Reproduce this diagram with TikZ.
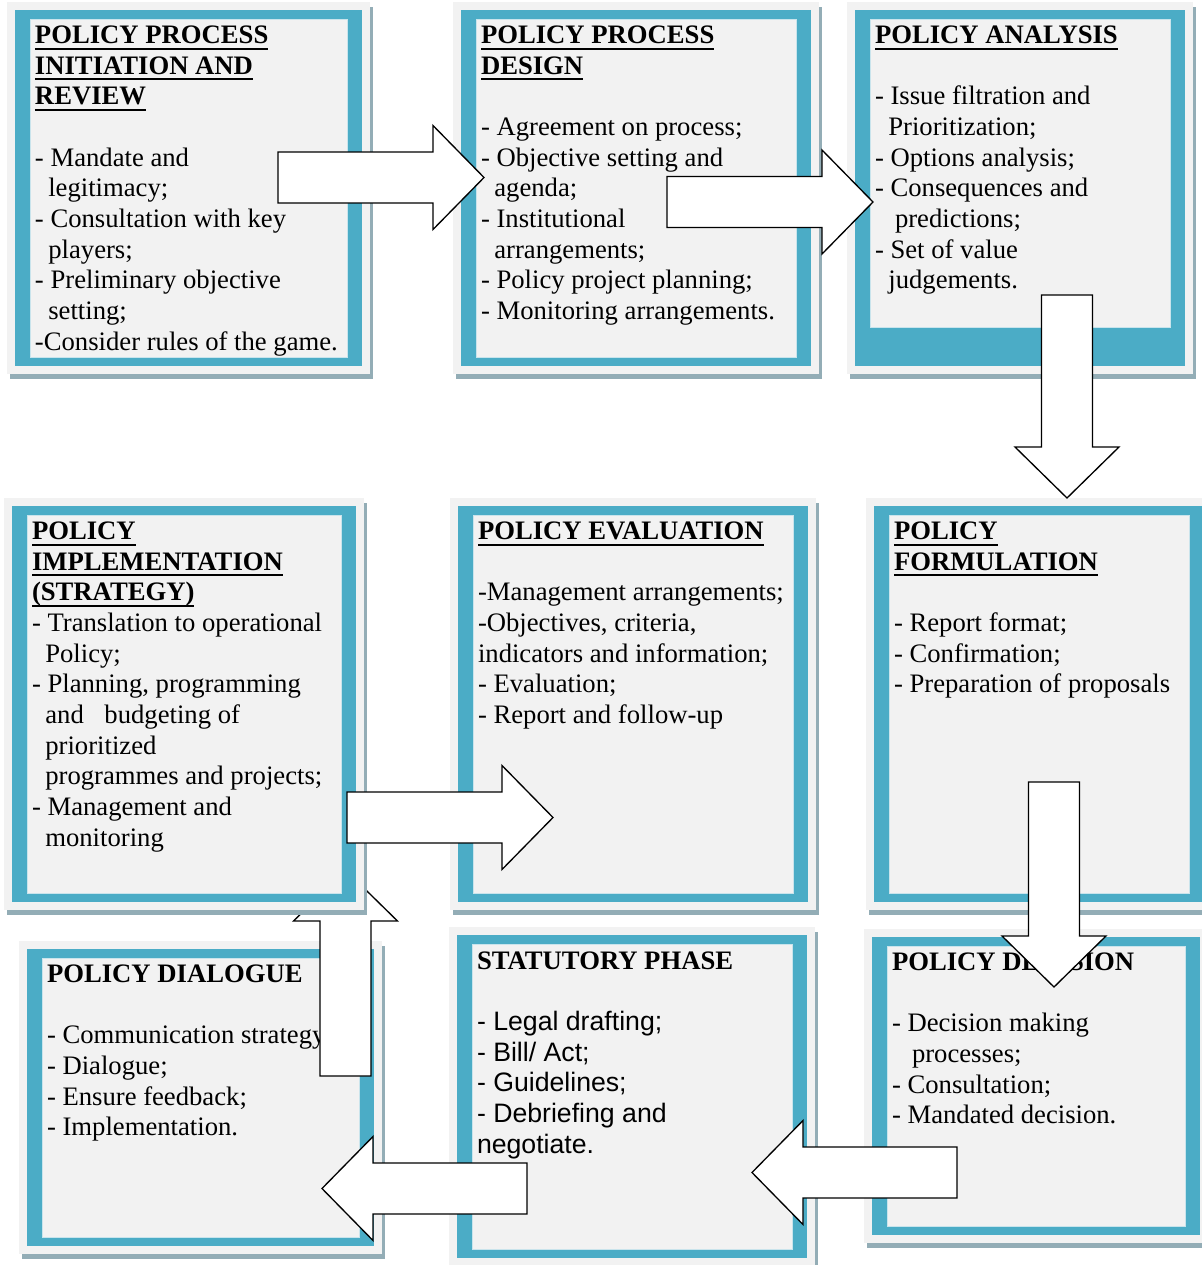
\documentclass[tikz,border=0pt]{standalone}
\usepackage{fontspec}
\setmainfont{Liberation Serif}
\newfontfamily\arialfont{Liberation Sans}
\usetikzlibrary{calc,fit,positioning}

\definecolor{frameteal}{HTML}{4BACC6}
\definecolor{panelgray}{HTML}{F2F2F2}
\definecolor{shadowgray}{HTML}{93ADB6}
\definecolor{rimblue}{HTML}{C9E4EC}

% underlined bold heading line
\newsavebox\hdbox
\newcommand{\hd}[1]{\sbox\hdbox{\textbf{#1}}\usebox\hdbox\llap{\rule[-4.6pt]{\wd\hdbox}{1.5pt}}}
\newcommand{\ind}{\hspace*{10pt}}
\newcommand{\indd}{\hspace*{15pt}}

% panel: [inner bottom inset] name, teal frame corners (px)
\newcommand{\panel}[6][9]{%
  \fill[shadowgray] (#3-5,#4-3) rectangle (#5+11,#6+13);
  \fill[panelgray] (#3-8,#4-8) rectangle (#5+8,#6+8);
  \node[frame, fit={(#3,#4) (#5,#6)}] (#2) {};
  \filldraw[panelgray, draw=rimblue, line width=0.6pt] (#3+15,#4+9) rectangle (#5-15,#6-#1);
}

% block arrow from one coordinate to another
\newcommand{\blockarrow}[2]{%
  \coordinate (ba) at ($(#2)!38.25pt!(#1)$);
  \draw[bigarrow] ($(#1)!19.1pt!90:(#2)$) -- ($(ba)!19.1pt!-90:(#1)$)
    -- ($(ba)!39pt!-90:(#1)$) -- (#2) -- ($(ba)!39pt!90:(#1)$)
    -- ($(ba)!19.1pt!90:(#1)$) -- ($(#1)!19.1pt!-90:(#2)$) -- cycle;
}

\begin{document}
\begin{tikzpicture}[x=0.75pt,y=-0.75pt,
  frame/.style={fill=frameteal, draw=none, inner sep=0pt},
  txt/.style={anchor=north west, align=left, inner sep=0pt,
    font={\fontsize{20}{23}\selectfont}},
  bigarrow/.style={fill=white, draw=black, line width=1pt, line join=miter}]

\useasboundingbox[fill=white] (0,0) rectangle (1202,1265);

% top row
\panel{init}{15}{10}{362}{366}
\node[txt] (initt) at ([shift={(20,12)}]init.north west)
  {\strut\hd{POLICY PROCESS}\\ \hd{INITIATION AND}\\ \hd{REVIEW}\\[23pt]
   - Mandate and\\ \ind legitimacy;\\ - Consultation with key\\ \ind players;\\
   - Preliminary objective\\ \ind setting;\\ -Consider rules of the game.};

\panel{design}{461}{10}{811}{366}
\node[txt] (designt) at ([shift={(20,12)}]design.north west)
  {\strut\hd{POLICY PROCESS}\\ \hd{DESIGN}\\[23pt]
   - Agreement on process;\\ - Objective setting and\\ \ind agenda;\\
   - Institutional\\ \ind arrangements;\\ - Policy project planning;\\
   - Monitoring arrangements.};

\panel[39]{analysis}{855}{10}{1185}{366}
\node[txt] (analysist) at ([shift={(20,12)}]analysis.north west)
  {\strut\hd{POLICY ANALYSIS}\\[23pt]
   - Issue filtration and\\ \ind Prioritization;\\ - Options analysis;\\
   - Consequences and\\ \indd predictions;\\ - Set of value\\ \ind judgements.};

% middle row
\panel{eval}{458}{506}{808}{902}
\node[txt] (evalt) at ([shift={(20,12)}]eval.north west)
  {\strut\hd{POLICY EVALUATION}\\[23pt]
   -Management arrangements;\\ -Objectives, criteria,\\ indicators and information;\\
   - Evaluation;\\ - Report and follow-up};

\panel{form}{874}{506}{1204}{902}
\node[txt] (formt) at ([shift={(20,12)}]form.north west)
  {\strut\hd{POLICY}\\ \hd{FORMULATION}\\[23pt]
   - Report format;\\ - Confirmation;\\ - Preparation of proposals};

% bottom row
\panel{dialogue}{27}{949}{374}{1246}
\node[txt] (dialoguet) at ([shift={(20,12)}]dialogue.north west)
  {\strut\textbf{POLICY DIALOGUE}\\[23pt]
   - Communication strategy;\\ - Dialogue;\\ - Ensure feedback;\\ - Implementation.};

\panel{stat}{457}{935}{807}{1258}
\node[txt] (statt) at ([shift={(20,13.5)}]stat.north west)
  {\strut\textbf{STATUTORY PHASE}\\[22.5pt]
   \arialfont - Legal drafting;\\ \arialfont - Bill/ Act;\\ \arialfont - Guidelines;\\
   \arialfont - Debriefing and\\ \arialfont negotiate.};

\panel{decision}{872}{937}{1200}{1235}
\node[txt] (decisiont) at ([shift={(20,12)}]decision.north west)
  {\strut\textbf{POLICY DECISION}\\[23pt]
   - Decision making\\ \indd processes;\\ - Consultation;\\ - Mandated decision.};

% arrow ends
\coordinate (initout) at (278,177.5);
\coordinate (designin) at (484,177.5);
\coordinate (designout) at (667,202);
\coordinate (analysisin) at (873,202);
\coordinate (analysisout) at (1067,295);
\coordinate (formin) at (1067,498);
\coordinate (formout) at (1054,782);
\coordinate (decisionin) at (1054,987);
\coordinate (implout) at (347,817.5);
\coordinate (evalin) at (553,817.5);
\coordinate (decisionout) at (957,1172.5);
\coordinate (statin) at (752,1172.5);
\coordinate (statout) at (527,1188.5);
\coordinate (dialoguein) at (322,1188.5);
\coordinate (dialogueout) at (345.5,1076);
\coordinate (implin) at (345.5,870);

% this one runs under the implementation box
\blockarrow{dialogueout}{implin}

\panel{impl}{12}{506}{356}{902}
\node[txt] (implt) at ([shift={(20,12)}]impl.north west)
  {\strut\hd{POLICY}\\ \hd{IMPLEMENTATION}\\ \hd{(STRATEGY)}\\
   - Translation to operational\\ \ind Policy;\\ - Planning, programming\\
   \ind and\hspace{15.5pt}budgeting of\\ \ind prioritized\\ \ind programmes and projects;\\
   - Management and\\ \ind monitoring};

% arrows
\blockarrow{initout}{designin}
\blockarrow{designout}{analysisin}
\blockarrow{analysisout}{formin}
\blockarrow{formout}{decisionin}
\blockarrow{implout}{evalin}
\blockarrow{decisionout}{statin}
\blockarrow{statout}{dialoguein}

\end{tikzpicture}
\end{document}
